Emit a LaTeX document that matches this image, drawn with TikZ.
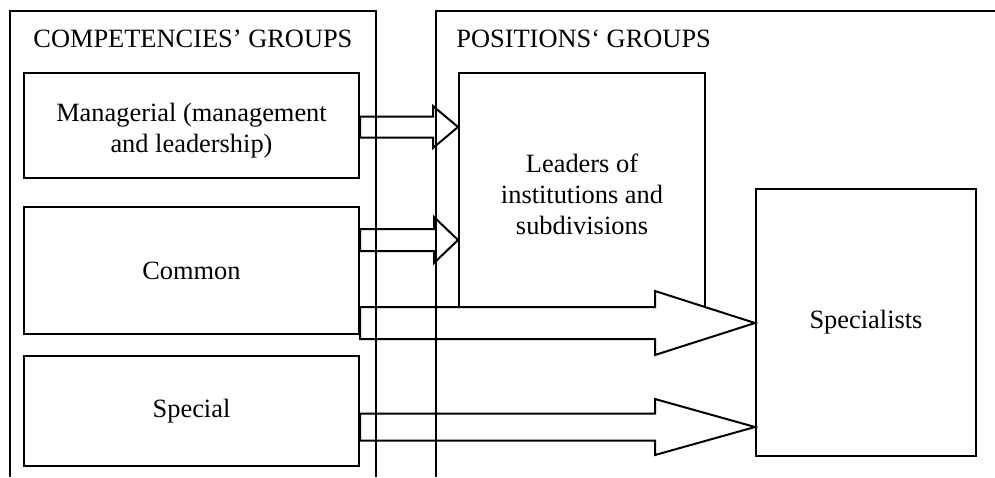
\documentclass[tikz,border=0pt]{standalone}
\usepackage{fontspec}
\setmainfont{Liberation Serif}
\usetikzlibrary{calc}

\tikzset{
  txt/.style={font=\fontsize{13.2}{15.5}\selectfont, align=center, inner sep=0pt},
  box/.style={txt, draw, line width=1pt},
  fat/.style={draw, fill=white, line width=1pt, line join=miter},
}

% #1 from node, #2 to node, #3 level, #4 shaft half, #5 head half, #6 head length
\newcommand{\blockarrow}[6]{%
  \coordinate (s) at (#1.east |- 0,#3);
  \coordinate (e) at (#2.west |- 0,#3);
  \draw[fat] ($(s)+(0,-#4)$) -- ($(e)+(-#6,-#4)$) -- ($(e)+(-#6,-#5)$) -- (e)
    -- ($(e)+(-#6,#5)$) -- ($(e)+(-#6,#4)$) -- ($(s)+(0,#4)$) -- cycle;
}

\begin{document}
\begin{tikzpicture}[x=0.5pt, y=-0.5pt]
  \useasboundingbox (0,0) rectangle (995,477);

  \node[box, minimum width=167.5pt, minimum height=52.5pt] (man) at (191.5,125.5) {};
  \node[txt] (manlbl) at (191.5,131) {Managerial (management\\and leadership)};
  \node[box, minimum width=167.5pt, minimum height=63.5pt] (com) at (191.5,270.5) {Common};
  \node[box, minimum width=167.5pt, minimum height=55pt] (spe) at (191.5,411) {Special};

  \node[box, minimum width=123pt, minimum height=117pt] (lead) at (582,190) {};
  \node[txt] (leadlbl) at (582,194) {Leaders of\\institutions and\\subdivisions};
  \node[box, minimum width=110pt, minimum height=133.5pt] (spec) at (866,322.5) {Specialists};

  \blockarrow{man}{lead}{127}{10.5}{21}{25}
  \blockarrow{com}{lead}{240}{11}{23}{24}
  \blockarrow{com}{spec}{323}{16}{32}{100}
  \blockarrow{spe}{spec}{427}{13.5}{28}{100}

  \draw[line width=1pt] (10,477) -- (10,11) -- (376,11) -- (376,477);
  \draw[line width=1pt] (436,477) -- (436,11) -- (995,11);

  \node[txt, anchor=base west] (compt) at (33,47) {COMPETENCIES’ GROUPS};
  \node[txt, anchor=base west] (post) at (456,47) {POSITIONS‘ GROUPS};
\end{tikzpicture}
\end{document}
